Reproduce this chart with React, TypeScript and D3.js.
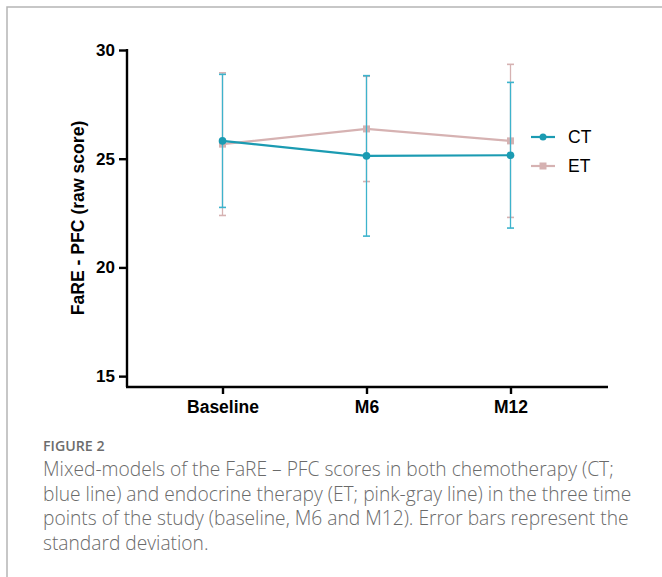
import React, { useEffect, useRef } from "react";
import * as d3 from "d3";

// time points
const timePoints = ["Baseline", "M6", "M12"];
// mean scores
const ctMeans = [25.82, 25.13, 25.16];
const etMeans = [25.67, 26.37, 25.82];
// standard deviations
const ctSd = [3.06, 3.69, 3.35];
const etSd = [3.28, 2.42, 3.52];
const yTicks = [15, 20, 25, 30];

const captionLines = [
  "Mixed-models of the FaRE \u2013 PFC scores in both chemotherapy (CT;",
  "blue line) and endocrine therapy (ET; pink-gray line) in the three time",
  "points of the study (baseline, M6 and M12). Error bars represent the",
  "standard deviation.",
];

const CT_COLOR = "#1b9bb2";
const CT_BAR = "#3db3cc";
const ET_COLOR = "#d6b2b2";
const FONT = "Liberation Sans, Arial, sans-serif";

export default function App() {
  const ref = useRef<SVGSVGElement>(null);

  useEffect(() => {
    const svg = d3.select(ref.current);
    svg.selectAll("*").remove();

    // frame
    svg.append("path")
      .attr("d", "M7,577 V7 H662")
      .attr("fill", "none")
      .attr("stroke", "#b5b5b5")
      .attr("stroke-width", 1.5);

    var x = d3.scalePoint().domain(timePoints).range([222.5, 510.5]);
    var y = d3.scaleLinear().domain([14.5, 30]).range([387, 50]);

    const g = svg.append("g");

    // axes
    const yAxis = g.append("g")
      .attr("transform", "translate(127,0)")
      .call(d3.axisLeft(y).tickValues(yTicks).tickSize(8).tickSizeOuter(0));
    yAxis.select(".domain").attr("stroke", "#000").attr("stroke-width", 2.4)
      .attr("d", `M0,${y(30) - 1}V${387}`);
    yAxis.selectAll(".tick line").attr("stroke-width", 2.4);
    yAxis.selectAll(".tick text")
      .attr("font-family", FONT)
      .attr("font-size", 17)
      .attr("font-weight", "bold")
      .attr("fill", "#000")
      .attr("x", -12);

    const xAxis = g.append("g")
      .attr("transform", "translate(0,387)")
      .call(d3.axisBottom(x).tickSize(7).tickSizeOuter(0));
    xAxis.select(".domain").attr("stroke-width", 2.4).attr("d", "M126,0H608");
    xAxis.selectAll(".tick line").attr("stroke-width", 2.4);
    xAxis.selectAll(".tick text")
      .attr("font-family", FONT)
      .attr("font-size", 17.5)
      .attr("font-weight", "bold")
      .attr("fill", "#000")
      .attr("y", 14);

    g.append("text")
      .attr("transform", "translate(84,218) rotate(-90)")
      .attr("text-anchor", "middle")
      .attr("font-family", FONT)
      .attr("font-size", 17.6)
      .attr("font-weight", "bold")
      .text("FaRE - PFC (raw score)");

    const series = [
      { name: "ET", means: etMeans, sd: etSd, color: ET_COLOR, bar: ET_COLOR, shape: "square" },
      { name: "CT", means: ctMeans, sd: ctSd, color: CT_COLOR, bar: CT_BAR, shape: "circle" },
    ];

    series.forEach((s) => {
      const sg = g.append("g");
      // error bars
      s.means.forEach((m, i) => {
        const cx = x(timePoints[i])!;
        const hi = y(m + s.sd[i]);
        const lo = y(m - s.sd[i]);
        sg.append("line").attr("x1", cx).attr("x2", cx).attr("y1", hi).attr("y2", lo)
          .attr("stroke", s.bar).attr("stroke-width", 1.3);
        [hi, lo].forEach((yy) => {
          sg.append("line").attr("x1", cx - 3.5).attr("x2", cx + 3.5).attr("y1", yy).attr("y2", yy)
            .attr("stroke", s.bar).attr("stroke-width", 1.6);
        });
      });
      const line = d3.line<number>()
        .x((_, i) => x(timePoints[i])!)
        .y((d) => y(d));
      sg.append("path").datum(s.means).attr("d", line)
        .attr("fill", "none").attr("stroke", s.color).attr("stroke-width", 2.2);
      s.means.forEach((m, i) => {
        const cx = x(timePoints[i])!;
        if (s.shape === "circle") {
          sg.append("circle").attr("cx", cx).attr("cy", y(m)).attr("r", 3.8).attr("fill", s.color);
        } else {
          sg.append("rect").attr("x", cx - 3.5).attr("y", y(m) - 3.5).attr("width", 7).attr("height", 7)
            .attr("fill", s.color);
        }
      });
    });

    // legend
    const legend = [
      { name: "CT", color: CT_COLOR, shape: "circle", y: 137 },
      { name: "ET", color: ET_COLOR, shape: "square", y: 166 },
    ];
    legend.forEach((l) => {
      g.append("line").attr("x1", 531).attr("x2", 555).attr("y1", l.y).attr("y2", l.y)
        .attr("stroke", l.color).attr("stroke-width", 2.2);
      if (l.shape === "circle") {
        g.append("circle").attr("cx", 543).attr("cy", l.y).attr("r", 3.5).attr("fill", l.color);
      } else {
        g.append("rect").attr("x", 539.5).attr("y", l.y - 3.5).attr("width", 7).attr("height", 7).attr("fill", l.color);
      }
      g.append("text").attr("x", 568).attr("y", l.y).attr("dy", "0.36em")
        .attr("font-family", FONT)
        .attr("font-size", 17.5).attr("fill", "#000").text(l.name);
    });

    // caption
    svg.append("text").attr("x", 43).attr("y", 451)
      .attr("font-family", "Open Sans, sans-serif").attr("font-size", 14.2)
      .attr("font-weight", 600).attr("fill", "#6d6d6d").text("FIGURE 2");
    captionLines.forEach((t, i) => {
      svg.append("text").attr("x", 43).attr("y", 476 + i * 24.5)
        .attr("font-family", "Open Sans, sans-serif").attr("font-size", 19.2)
        .attr("font-weight", 300).attr("fill", "#6a6a6a").text(t);
    });
  }, []);

  return (
    <svg
      ref={ref}
      width={662}
      height={577}
      style={{ position: "absolute", left: 0, top: 0, background: "#fff" }}
    />
  );
}
